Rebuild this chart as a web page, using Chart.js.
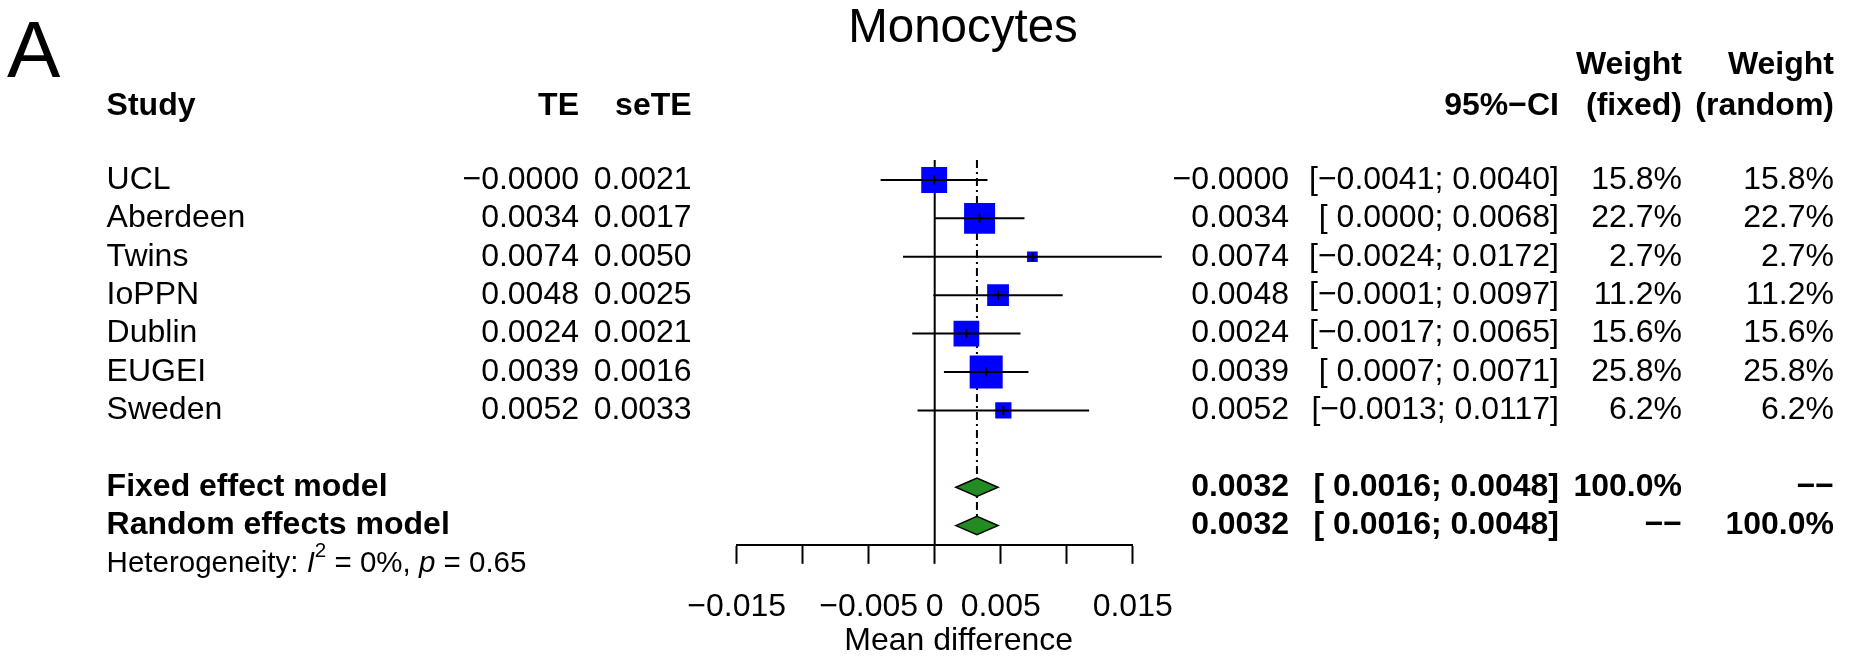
<!DOCTYPE html>
<html>
<head>
<meta charset="utf-8">
<title>Monocytes forest plot</title>
<script src="https://cdn.jsdelivr.net/npm/chart.js@4.4.1/dist/chart.umd.min.js"></script>
<style>
  html, body { margin: 0; padding: 0; background: #fff; }
  canvas { display: block; }
</style>
</head>
<body>
<canvas id="forest" width="1857" height="660"></canvas>
<script>
// Study rows, as printed in the table
const STUDIES       = ["UCL", "Aberdeen", "Twins", "IoPPN", "Dublin", "EUGEI", "Sweden"];
const TE            = [-0.00004, 0.0034, 0.0074, 0.0048, 0.0024, 0.0039, 0.0052];
const SE_TE         = [0.0021, 0.0017, 0.0050, 0.0025, 0.0021, 0.0016, 0.0033];
const CI_LOWER      = [-0.0041, 0.0000, -0.0024, -0.0001, -0.0017, 0.0007, -0.0013];
const CI_UPPER      = [0.0040, 0.0068, 0.0172, 0.0097, 0.0065, 0.0071, 0.0117];
const WEIGHT_FIXED  = [15.8, 22.7, 2.7, 11.2, 15.6, 25.8, 6.2];
const WEIGHT_RANDOM = [15.8, 22.7, 2.7, 11.2, 15.6, 25.8, 6.2];

// Pooled rows
const POOLED_LABELS  = ["Fixed effect model", "Random effects model"];
const POOLED_EST     = [0.0032, 0.0032];
const POOLED_LOWER   = [0.0016, 0.0016];
const POOLED_UPPER   = [0.0048, 0.0048];
const POOLED_W_FIXED = ["100.0%", "\u2212\u2212"];
const POOLED_W_RAND  = ["\u2212\u2212", "100.0%"];

// x axis
const TICK_VALUES = [-0.015, -0.01, -0.005, 0, 0.005, 0.01, 0.015];
const TICK_LABELS = ["\u22120.015", "", "\u22120.005", "0", "0.005", "", "0.015"];

// Layout only (pixel columns of the text table)
const FONT = '"Liberation Sans", Arial, Helvetica, sans-serif';
const FS = 32;
const COL = { study: 106.6, te: 579, se: 691.6, est: 1289, ci: 1559, wf: 1682, wr: 1834 };
const POOLED_ROW0 = 8;

const MINUS = "\u2212";
const fmt = (v) => (v < 0 ? MINUS : "") + Math.abs(v).toFixed(4);
const fmtCI = (lo, hi) => "[" + (lo < 0 ? MINUS : " ") + Math.abs(lo).toFixed(4) + "; " + fmt(hi) + "]";

function text(ctx, s, x, y, align, weight, size, style) {
  ctx.font = `${style || "normal"} ${weight || "normal"} ${size || FS}px ${FONT}`;
  ctx.textAlign = align || "left";
  ctx.textBaseline = "middle";
  ctx.fillStyle = "#000";
  ctx.fillText(s, x, y);
}

// Reference lines, diamonds and all table text, placed with the chart scales
const forestPlugin = {
  id: "forestPlugin",
  beforeDatasetsDraw(chart) {
    const { ctx, chartArea, scales: { x, y } } = chart;
    ctx.save();
    ctx.strokeStyle = "#000";
    ctx.lineWidth = 2;
    // no-effect line
    ctx.beginPath();
    ctx.moveTo(x.getPixelForValue(0), chartArea.top);
    ctx.lineTo(x.getPixelForValue(0), chartArea.bottom);
    ctx.stroke();
    // pooled estimate line (dot-dash)
    ctx.setLineDash([8, 4, 2, 4]);
    ctx.beginPath();
    ctx.moveTo(x.getPixelForValue(POOLED_EST[0]), chartArea.top);
    ctx.lineTo(x.getPixelForValue(POOLED_EST[0]), y.getPixelForValue(POOLED_ROW0 + 1));
    ctx.stroke();
    ctx.restore();
  },
  afterDatasetsDraw(chart) {
    const { ctx, scales: { x, y } } = chart;
    ctx.save();
    POOLED_EST.forEach((est, i) => {
      const py = y.getPixelForValue(POOLED_ROW0 + i);
      const h = 9.2;
      ctx.beginPath();
      ctx.moveTo(x.getPixelForValue(POOLED_LOWER[i]), py);
      ctx.lineTo(x.getPixelForValue(est), py - h);
      ctx.lineTo(x.getPixelForValue(POOLED_UPPER[i]), py);
      ctx.lineTo(x.getPixelForValue(est), py + h);
      ctx.closePath();
      ctx.fillStyle = "#228B22";
      ctx.fill();
      ctx.strokeStyle = "#000";
      ctx.lineWidth = 1.5;
      ctx.stroke();
    });
    ctx.restore();
  },
  afterDraw(chart) {
    const { ctx, scales: { x, y } } = chart;
    ctx.save();
    // panel letter and title
    ctx.font = `normal 80px ${FONT}`;
    ctx.textAlign = "left";
    ctx.textBaseline = "alphabetic";
    ctx.fillStyle = "#000";
    ctx.fillText("A", 7, 77);
    ctx.font = `normal 47.5px ${FONT}`;
    ctx.textAlign = "center";
    ctx.fillText("Monocytes", 963, 41.5);

    // headers
    const h1 = y.getPixelForValue(-3), h2 = y.getPixelForValue(-1.92);
    text(ctx, "Weight", COL.wf, h1, "right", "bold");
    text(ctx, "Weight", COL.wr, h1, "right", "bold");
    text(ctx, "Study", COL.study, h2, "left", "bold");
    text(ctx, "TE", COL.te, h2, "right", "bold");
    text(ctx, "seTE", COL.se, h2, "right", "bold");
    text(ctx, "95%" + MINUS + "CI", COL.ci, h2, "right", "bold");
    text(ctx, "(fixed)", COL.wf, h2, "right", "bold");
    text(ctx, "(random)", COL.wr, h2, "right", "bold");

    // study rows
    STUDIES.forEach((s, i) => {
      const py = y.getPixelForValue(i);
      text(ctx, s, COL.study, py, "left");
      text(ctx, fmt(TE[i]), COL.te, py, "right");
      text(ctx, fmt(SE_TE[i]), COL.se, py, "right");
      text(ctx, fmt(TE[i]), COL.est, py, "right");
      text(ctx, fmtCI(CI_LOWER[i], CI_UPPER[i]), COL.ci, py, "right");
      text(ctx, WEIGHT_FIXED[i].toFixed(1) + "%", COL.wf, py, "right");
      text(ctx, WEIGHT_RANDOM[i].toFixed(1) + "%", COL.wr, py, "right");
    });

    // pooled rows
    POOLED_LABELS.forEach((s, i) => {
      const py = y.getPixelForValue(POOLED_ROW0 + i);
      text(ctx, s, COL.study, py, "left", "bold");
      text(ctx, fmt(POOLED_EST[i]), COL.est, py, "right", "bold");
      text(ctx, fmtCI(POOLED_LOWER[i], POOLED_UPPER[i]), COL.ci, py, "right", "bold");
      text(ctx, POOLED_W_FIXED[i], COL.wf, py, "right", "bold");
      text(ctx, POOLED_W_RAND[i], COL.wr, py, "right", "bold");
    });

    // heterogeneity line: "Heterogeneity: I^2 = 0%, p = 0.65"
    const hy = y.getPixelForValue(POOLED_ROW0 + 2);
    const hs = 29.5;
    let hx = COL.study;
    const part = (s, style, size, dy) => {
      text(ctx, s, hx, hy + (dy || 0), "left", "normal", size || hs, style);
      hx += ctx.measureText(s).width;
    };
    part("Heterogeneity: ");
    part("I", "italic");
    part("2", "normal", hs * 0.7, -13);
    part(" = 0%, ");
    part("p", "italic");
    part(" = 0.65");

    // x axis title
    text(ctx, "Mean difference", 958.7, 641, "center");
    ctx.restore();
  }
};

// CI whiskers: one small line dataset per study
const ciSets = STUDIES.map((s, i) => ({
  label: s + " CI",
  data: [{ x: CI_LOWER[i], y: i }, { x: CI_UPPER[i], y: i }],
  showLine: true,
  borderColor: "#000",
  borderWidth: 2,
  pointRadius: 0,
  clip: false,
  order: 1
}));

const chart = new Chart(document.getElementById("forest"), {
  type: "scatter",
  data: {
    datasets: [
      {
        label: "Estimate",
        data: TE.map((v, i) => ({ x: v, y: i })),
        pointStyle: "line",
        rotation: 90,
        pointRadius: 4.5,
        borderColor: "#000",
        borderWidth: 2,
        order: 0
      },
      ...ciSets,
      {
        label: "Weight",
        data: TE.map((v, i) => ({ x: v, y: i })),
        pointStyle: "rect",
        // square area proportional to the weight
        pointRadius: (c) => 4.6 * Math.sqrt(WEIGHT_FIXED[c.dataIndex]),
        backgroundColor: "#0000FF",
        borderColor: "#0000FF",
        borderWidth: 0,
        order: 2
      }
    ]
  },
  options: {
    responsive: false,
    animation: false,
    devicePixelRatio: 1,
    events: [],
    layout: { padding: { left: 736.7, right: 724.3, top: 160, bottom: 0 } },
    plugins: { legend: { display: false }, tooltip: { enabled: false } },
    scales: {
      x: {
        type: "linear",
        position: "bottom",
        min: -0.015,
        max: 0.015,
        afterBuildTicks: (s) => { s.ticks = TICK_VALUES.map((v) => ({ value: v })); },
        afterFit: (s) => { s.height = 115.2; },
        grid: { drawOnChartArea: false, drawTicks: true, tickLength: 19, tickColor: "#000", tickWidth: 2 },
        border: { display: true, color: "#000", width: 2 },
        ticks: {
          autoSkip: false,
          maxRotation: 0,
          padding: 24,
          color: "#000",
          font: { family: FONT, size: FS },
          callback: (v, i) => TICK_LABELS[i]
        }
      },
      y: {
        type: "linear",
        display: false,
        reverse: true,
        min: -0.52,
        max: 9.5
      }
    }
  },
  plugins: [forestPlugin]
});
</script>
</body>
</html>
